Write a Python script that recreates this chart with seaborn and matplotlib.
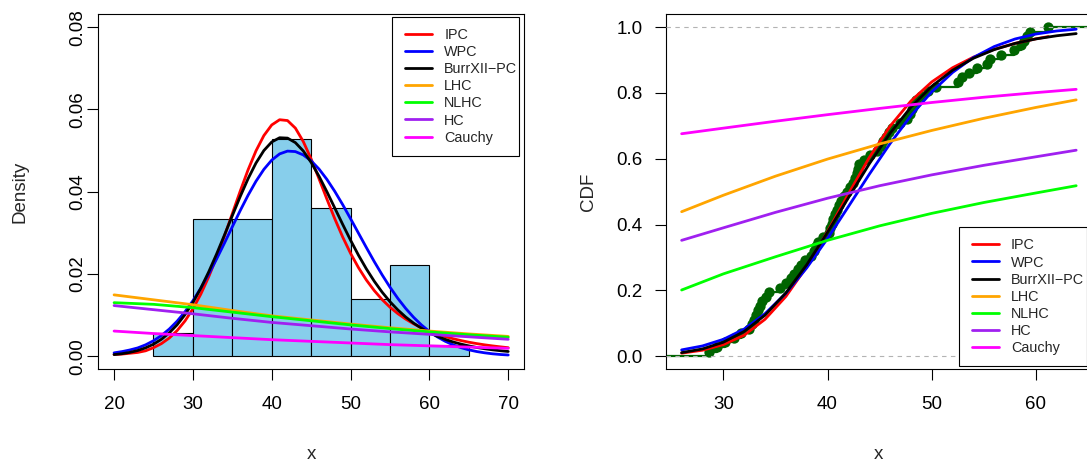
import numpy as np
import matplotlib
matplotlib.use("Agg")
import matplotlib.pyplot as plt
from matplotlib.lines import Line2D
from matplotlib.patches import Rectangle
import seaborn as sns

# ---------------------------------------------------------------- data
# observed sample (n = 72)
sample = [
    28.6, 29.4,
    30.2, 31.0, 31.7, 32.5, 32.8, 32.9, 33.1, 33.3, 33.5, 33.7, 34.1, 34.4,
    35.4, 36.0, 36.5, 36.8, 37.2, 37.5, 37.8, 38.4, 38.7, 38.9, 39.1, 39.6,
    40.1, 40.2, 40.4, 40.5, 40.7, 40.9, 41.1, 41.3, 41.6, 41.9, 42.2, 42.4,
    42.6, 42.8, 42.9, 43.0, 43.5, 44.1, 44.7,
    45.1, 45.3, 45.6, 45.9, 46.2, 47.0, 47.6, 47.9, 48.1, 48.3, 48.5, 49.0, 49.6,
    50.4, 52.5, 52.9, 53.6, 54.3,
    55.3, 55.6, 56.6, 57.9, 58.6, 58.9, 59.1, 59.4,
    61.2,
]
hist_bins = [25, 30, 35, 40, 45, 50, 55, 60, 65]

model_names = ["IPC", "WPC", "BurrXII\u2212PC", "LHC", "NLHC", "HC", "Cauchy"]
model_colors = ["#FF0000", "#0000FF", "#000000", "#FFA500", "#00FF00", "#A020F0", "#FF00FF"]

# fitted densities, x = 20..70
dens_x = list(range(20, 71))
dens_ipc = [
    0.0004, 0.0005, 0.0007, 0.0009, 0.0013, 0.00205, 0.00304, 0.0044, 0.00622, 0.00856,
    0.0115, 0.01506, 0.01926, 0.02401, 0.02921, 0.03466, 0.04012, 0.04531, 0.04991, 0.05363,
    0.05622, 0.05749, 0.05729, 0.05545, 0.05219, 0.04793, 0.04312, 0.03818, 0.0334, 0.02897,
    0.025, 0.02153, 0.01852, 0.01595, 0.01376, 0.0119, 0.01033, 0.009, 0.00786, 0.0069,
    0.00607, 0.00537, 0.00476, 0.00424, 0.00379, 0.00339, 0.00305, 0.00275, 0.00249, 0.00226,
    0.00205,
]
dens_wpc = [
    0.0008, 0.0011, 0.0015, 0.002, 0.00275, 0.00374, 0.005, 0.00658, 0.0085, 0.01079,
    0.01347, 0.01652, 0.01992, 0.0236, 0.02748, 0.03146, 0.03539, 0.03913, 0.04252, 0.04541,
    0.04767, 0.04918, 0.04986, 0.04974, 0.04893, 0.0475, 0.04549, 0.04298, 0.04006, 0.03684,
    0.03342, 0.02992, 0.02642, 0.02301, 0.01978, 0.01677, 0.01403, 0.01158, 0.00943, 0.00757,
    0.006, 0.00469, 0.00362, 0.00275, 0.00207, 0.00153, 0.00112, 0.00081, 0.00057, 0.0004,
    0.00028,
]
dens_burr = [
    0.00038, 0.00059, 0.00091, 0.00137, 0.00202, 0.0029, 0.00409, 0.00565, 0.00763, 0.01009,
    0.01305, 0.01652, 0.02047, 0.02481, 0.02943, 0.03416, 0.03881, 0.04315, 0.04695, 0.04999,
    0.05208, 0.05311, 0.05302, 0.05192, 0.0499, 0.04711, 0.04374, 0.03997, 0.03601, 0.03204,
    0.02819, 0.02456, 0.02123, 0.01823, 0.01557, 0.01324, 0.01123, 0.0095, 0.00802, 0.00677,
    0.00572, 0.00483, 0.00408, 0.00345, 0.00293, 0.00249, 0.00211, 0.0018, 0.00154, 0.00132,
    0.00113,
]
flat_x = [20, 25, 30, 35, 40, 45, 50, 55, 60, 65, 70]
dens_lhc = [0.0149, 0.0137, 0.0125, 0.0111, 0.0098, 0.0088, 0.0078, 0.0069, 0.0061, 0.0054, 0.0048]
dens_nlhc = [0.0130, 0.0126, 0.0118, 0.0107, 0.0096, 0.0086, 0.0076, 0.0067, 0.0059, 0.0052, 0.0046]
dens_hc = [0.0123, 0.0113, 0.0103, 0.0092, 0.0082, 0.0074, 0.0066, 0.0059, 0.0053, 0.0047, 0.0041]
dens_cauchy = [0.0061, 0.0055, 0.0050, 0.0045, 0.0040, 0.0036, 0.0032, 0.0028, 0.0025, 0.0022, 0.0019]

# fitted CDFs
cdf_x = [26, 28, 30, 32, 34, 36, 38, 40, 42, 44, 46, 48, 50, 52, 54, 56, 58, 60, 62, 63.86]
cdf_wpc = [0.019, 0.031, 0.051, 0.0823, 0.1290, 0.1910, 0.2681, 0.3576, 0.4544, 0.5524,
           0.6460, 0.7307, 0.8034, 0.8624, 0.9079, 0.9411, 0.9641, 0.9791, 0.9885, 0.9937]
cdf_burr = [0.0106, 0.0219, 0.0422, 0.0751, 0.1244, 0.1922, 0.2776, 0.3764, 0.4815, 0.5841,
            0.6774, 0.7568, 0.8202, 0.8690, 0.9055, 0.9318, 0.9507, 0.9643, 0.9739, 0.9804]
cdf_ipc_x = [26, 28, 30, 32, 34, 36, 38, 40, 42, 44, 46, 48, 50, 52, 54, 56, 58, 60, 61.2]
cdf_ipc = [0.009, 0.018, 0.035, 0.0637, 0.1119, 0.1812, 0.2717, 0.3784, 0.4929, 0.6034,
           0.6990, 0.7754, 0.8335, 0.8767, 0.9088, 0.9327, 0.9507, 0.9646, 0.9714]
cdf_flat_x = [26, 30, 35, 40, 45, 50, 55, 60, 63.86]
cdf_lhc = [0.439, 0.489, 0.547, 0.599, 0.645, 0.686, 0.723, 0.756, 0.779]
cdf_nlhc = [0.201, 0.250, 0.302, 0.352, 0.396, 0.434, 0.467, 0.496, 0.518]
cdf_hc = [0.352, 0.390, 0.437, 0.480, 0.518, 0.551, 0.580, 0.606, 0.626]
cdf_cauchy = [0.676, 0.693, 0.714, 0.734, 0.753, 0.771, 0.787, 0.801, 0.811]

# ---------------------------------------------------------------- style
sns.set_style("white")
plt.rcParams["font.family"] = ["Liberation Sans", "DejaVu Sans"]
plt.rcParams["axes.linewidth"] = 0.8

TICK_FS = 13.5
LEG_FS = 10.4
CURVE_LW = 2.0

W, H = 1087, 461
fig = plt.figure(figsize=(W / 100, H / 100), dpi=100)
fig.patch.set_facecolor("white")


def px_axes(left, top, right, bottom):
    return [left / W, 1 - bottom / H, (right - left) / W, (bottom - top) / H]


ax1 = fig.add_axes(px_axes(98.3, 14, 524, 369.3))
ax2 = fig.add_axes(px_axes(666, 14, 1091.7, 369.3))

# ---------------------------------------------------------------- left: histogram + densities
sns.histplot(x=sample, bins=hist_bins, stat="density", color="#87CEEB", alpha=1,
             edgecolor="black", linewidth=0.8, ax=ax1, zorder=1)

dens_sets = [
    (dens_x, dens_ipc), (dens_x, dens_wpc), (dens_x, dens_burr),
    (flat_x, dens_lhc), (flat_x, dens_nlhc), (flat_x, dens_hc), (flat_x, dens_cauchy),
]
for (xs, ys), col in zip(dens_sets, model_colors):
    sns.lineplot(x=xs, y=ys, color=col, linewidth=CURVE_LW, ax=ax1, zorder=3)

ax1.set_xlim(18, 72)
ax1.set_ylim(-0.0032, 0.0832)
ax1.set_xticks([20, 30, 40, 50, 60, 70])
ax1.set_xticklabels(["20", "30", "40", "50", "60", "70"])
ax1.set_yticks([0.0, 0.02, 0.04, 0.06, 0.08])
ax1.set_yticklabels(["0.00", "0.02", "0.04", "0.06", "0.08"], rotation=90, va="center", ha="right")
ax1.set_xlabel("x", fontsize=TICK_FS)
ax1.set_ylabel("Density", fontsize=TICK_FS)

# ---------------------------------------------------------------- right: ECDF + fitted CDFs
xlim2 = (24.5, 65.35)
green_dark = "#006400"
s_sorted = np.sort(np.asarray(sample))
ecdf_y = np.arange(1, len(s_sorted) + 1) / len(s_sorted)

sns.ecdfplot(x=sample, color=green_dark, linewidth=1.6, ax=ax2, zorder=2)
ax2.plot([xlim2[0], s_sorted[0]], [0, 0], color=green_dark, lw=1.6, zorder=2)
ax2.plot([s_sorted[-1], xlim2[1]], [1, 1], color=green_dark, lw=1.6, zorder=2)
sns.scatterplot(x=s_sorted, y=ecdf_y, color=green_dark, s=55, linewidth=0, ax=ax2, zorder=2.5)

for yv in (0, 1):
    ax2.axhline(yv, color="#B3B3B3", lw=0.8, ls=(0, (4, 4)), zorder=3)

cdf_sets = [
    (cdf_ipc_x, cdf_ipc), (cdf_x, cdf_wpc), (cdf_x, cdf_burr),
    (cdf_flat_x, cdf_lhc), (cdf_flat_x, cdf_nlhc), (cdf_flat_x, cdf_hc), (cdf_flat_x, cdf_cauchy),
]
for (xs, ys), col in zip(cdf_sets, model_colors):
    sns.lineplot(x=xs, y=ys, color=col, linewidth=CURVE_LW, ax=ax2, zorder=4)

ax2.set_xlim(*xlim2)
ax2.set_ylim(-0.04, 1.04)
ax2.set_xticks([30, 40, 50, 60])
ax2.set_xticklabels(["30", "40", "50", "60"])
ax2.set_yticks([0.0, 0.2, 0.4, 0.6, 0.8, 1.0])
ax2.set_yticklabels(["0.0", "0.2", "0.4", "0.6", "0.8", "1.0"])
ax2.set_xlabel("x", fontsize=TICK_FS)
ax2.set_ylabel("CDF", fontsize=TICK_FS)

# ---------------------------------------------------------------- axes cosmetics
for ax in (ax1, ax2):
    for sp in ax.spines.values():
        sp.set_visible(True)
        sp.set_color("black")
        sp.set_linewidth(0.8)
    ax.tick_params(axis="both", which="both", direction="out", length=7.9, width=0.8,
                   color="black", labelsize=TICK_FS, labelcolor="black",
                   bottom=True, left=True, top=False, right=False)
    ax.tick_params(axis="x", pad=11)
    ax.xaxis.set_label_coords(0.5, -0.2516)
    ax.xaxis.label.set_va("baseline")
    ax.yaxis.set_label_coords(-0.183, 0.5)
    ax.yaxis.label.set_va("center")
    ax.set_facecolor("white")

ax1.tick_params(axis="y", pad=1)
ax2.tick_params(axis="y", pad=9)

# ---------------------------------------------------------------- legends
handles = [Line2D([0], [0], color=c, lw=CURVE_LW) for c in model_colors]


def boxed_legend(ax, box, anchor):
    x0, y0, x1, y1 = box
    ax.add_patch(Rectangle((x0, y0), x1 - x0, y1 - y0, transform=ax.transAxes,
                           facecolor="white", edgecolor="black", lw=0.8, zorder=5,
                           clip_on=False))
    leg = ax.legend(handles, model_names, loc="center left", bbox_to_anchor=anchor,
                    frameon=False, fontsize=LEG_FS, handlelength=1.89, handletextpad=0.83,
                    labelspacing=0.215, borderpad=0, borderaxespad=0)
    leg.set_zorder(6)
    return leg


boxed_legend(ax1, (0.6906, 0.6012, 0.9890, 0.9907), (0.7205, 0.7965))
boxed_legend(ax2, (0.6890, 0.0101, 0.9878, 0.3997), (0.7181, 0.2043))

fig.savefig("out.png", dpi=100, facecolor="white")
